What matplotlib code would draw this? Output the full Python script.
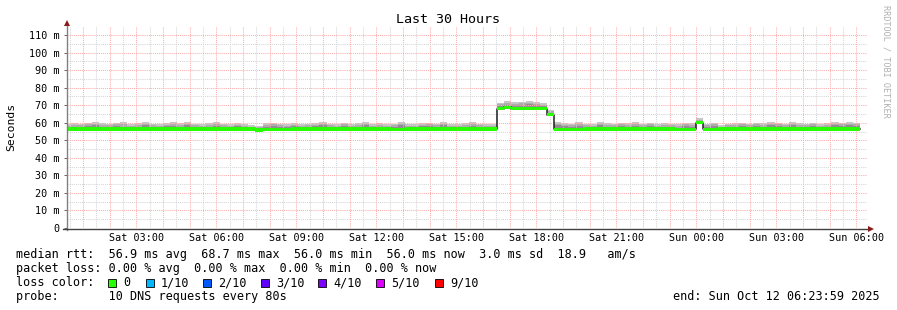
import numpy as np
import matplotlib
matplotlib.use("Agg")
import matplotlib.pyplot as plt
from matplotlib.patches import Rectangle
from matplotlib.lines import Line2D

# ---------------- data ----------------
title = "Last 30 Hours"
ylabel = "Seconds"
bin_minutes = 16          # consolidation step of the RRA
first_bin_start_h = 16 / 60.0   # Sat 00:16
x_start_h, x_end_h = 0.4, 30.4  # Sat 00:24 .. Sun 06:24

xtick_hours = [3, 6, 9, 12, 15, 18, 21, 24, 27, 30]
xtick_labels = ["Sat 03:00", "Sat 06:00", "Sat 09:00", "Sat 12:00", "Sat 15:00",
                "Sat 18:00", "Sat 21:00", "Sun 00:00", "Sun 03:00", "Sun 06:00"]
ytick_values = [0, 10, 20, 30, 40, 50, 60, 70, 80, 90, 100, 110]
ytick_labels = ["0", "10 m", "20 m", "30 m", "40 m", "50 m", "60 m",
                "70 m", "80 m", "90 m", "100 m", "110 m"]

# median RTT per bin (ms)
median = [
    56.5, 56.5, 56.4, 56.4, 56.5, 56.5, 56.4, 56.4, 56.5, 56.5,
    56.4, 56.4, 56.4, 56.5, 56.5, 56.4, 56.4, 56.4, 56.5, 56.5,
    56.4, 56.4, 56.4, 56.4, 56.4, 56.4, 56.4, 55.9, 56.2, 56.3,
    56.3, 56.3, 56.4, 56.4, 56.4, 56.4, 56.4, 56.4, 56.4, 56.5,
    56.5, 56.5, 56.4, 56.4, 56.4, 56.4, 56.3, 56.3, 56.4, 56.4,
    56.4, 56.4, 56.4, 56.4, 56.4, 56.4, 56.4, 56.4, 56.4, 56.4,
    56.4, 68.1, 68.7, 68.0, 68.0, 68.0, 68.0, 68.0, 64.6, 56.3,
    56.3, 56.3, 56.3, 56.4, 56.4, 56.4, 56.4, 56.4, 56.4, 56.4,
    56.4, 56.4, 56.4, 56.4, 56.4, 56.4, 56.2, 56.2, 56.2, 60.0,
    56.3, 56.3, 56.4, 56.4, 56.4, 56.4, 56.4, 56.4, 56.4, 56.4,
    56.4, 56.4, 56.4, 56.4, 56.4, 56.4, 56.4, 56.4, 56.4, 56.4,
    56.4, 56.4]

# smoke: highest ping per bin
smoke_top = [
    59.0, 59.8, 59.5, 60.0, 60.3, 59.8, 59.5, 60.0, 60.2, 59.3,
    59.8, 60.3, 59.5, 59.2, 59.8, 60.2, 59.6, 60.3, 59.5, 59.2,
    59.8, 60.3, 59.5, 59.2, 59.8, 59.0, 58.8, 58.3, 59.8, 60.0,
    59.5, 59.2, 59.8, 59.0, 59.5, 59.8, 60.2, 59.5, 59.0, 60.0,
    59.3, 59.8, 60.5, 59.2, 59.6, 59.0, 59.5, 60.3, 59.2, 59.0,
    59.8, 60.0, 59.5, 60.3, 59.2, 59.0, 59.8, 60.2, 59.5, 59.2,
    59.3, 71.5, 72.2, 71.8, 72.0, 72.4, 71.8, 71.2, 67.4, 60.5,
    59.8, 59.5, 60.2, 59.5, 59.0, 60.5, 59.8, 59.5, 60.0, 59.8,
    60.2, 59.5, 60.0, 59.2, 59.8, 59.5, 59.0, 60.0, 59.8, 62.5,
    59.5, 60.0, 58.8, 59.5, 59.8, 60.0, 59.5, 60.0, 59.8, 60.3,
    60.0, 59.5, 60.3, 59.8, 59.5, 60.0, 59.2, 59.8, 60.3, 60.0,
    60.5, 60.0]

# smoke: second highest ping per bin
smoke_mid = [
    58.2, 58.5, 58.8, 59.0, 59.5, 58.8, 58.5, 59.2, 59.0, 58.3,
    58.8, 59.3, 58.5, 58.2, 58.8, 59.2, 58.6, 59.5, 58.5, 58.3,
    58.8, 59.0, 58.5, 58.2, 58.8, 58.0, 57.8, 57.5, 58.8, 59.0,
    58.5, 58.2, 58.8, 58.0, 58.5, 58.8, 59.2, 58.5, 58.0, 59.0,
    58.3, 58.8, 59.5, 58.2, 58.6, 58.0, 58.5, 59.3, 58.2, 58.0,
    58.8, 59.0, 58.5, 59.3, 58.2, 58.0, 58.8, 59.2, 58.5, 58.2,
    58.3, 70.5, 71.0, 70.8, 71.0, 71.3, 70.8, 70.2, 66.5, 59.5,
    58.8, 58.5, 59.2, 58.5, 58.0, 59.5, 58.8, 58.5, 59.0, 58.8,
    59.2, 58.5, 59.0, 58.2, 58.8, 58.5, 58.0, 59.0, 58.8, 61.5,
    58.5, 59.0, 57.8, 58.5, 58.8, 59.0, 58.5, 59.0, 58.8, 59.3,
    59.0, 58.5, 59.3, 58.8, 58.5, 59.0, 58.2, 58.8, 59.3, 59.0,
    59.5, 59.0]

# smoke: third highest ping per bin
smoke_dark = [
    57.5, 57.8, 57.5, 58.0, 58.5, 57.8, 57.5, 58.3, 57.8, 57.5,
    57.8, 58.5, 57.5, 57.3, 58.0, 58.3, 57.5, 58.8, 57.8, 57.3,
    57.8, 58.2, 57.5, 57.3, 58.0, 57.2, 57.0, 56.8, 57.8, 58.2,
    57.5, 57.3, 58.0, 57.2, 57.5, 58.0, 58.5, 57.5, 57.2, 58.3,
    57.5, 57.8, 58.8, 57.3, 57.8, 57.2, 57.5, 58.5, 57.3, 57.2,
    58.0, 58.2, 57.5, 58.5, 57.3, 57.2, 57.8, 58.3, 57.5, 57.3,
    57.5, 69.5, 70.3, 70.0, 70.2, 70.5, 70.0, 69.3, 65.5, 58.5,
    58.0, 57.5, 58.3, 57.5, 57.2, 58.8, 57.8, 57.5, 58.0, 57.8,
    58.3, 57.5, 58.0, 57.3, 57.8, 57.5, 57.2, 58.2, 57.8, 60.8,
    57.5, 58.0, 57.0, 57.5, 57.8, 58.0, 57.5, 58.2, 57.8, 58.5,
    58.0, 57.5, 58.5, 57.8, 57.5, 58.2, 57.3, 57.8, 58.5, 58.0,
    58.8, 58.0]

legend_line1 = "median rtt:  56.9 ms avg  68.7 ms max  56.0 ms min  56.0 ms now  3.0 ms sd  18.9   am/s"
legend_line2 = "packet loss: 0.00 % avg  0.00 % max  0.00 % min  0.00 % now"
legend_line3 = "loss color:"
legend_line4 = "probe:       10 DNS requests every 80s"
end_text = "end: Sun Oct 12 06:23:59 2025"
loss_labels = ["0", "1/10", "2/10", "3/10", "4/10", "5/10", "9/10"]
loss_colors = ["#26ff00", "#00b8ff", "#0059ff", "#5e00ff", "#7e00ff", "#dd00ff", "#ff0000"]
watermark = "RRDTOOL / TOBI OETIKER"

# ---------------- figure ----------------
W, H = 897, 310
fig = plt.figure(figsize=(W / 100, H / 100), dpi=100)
fig.patch.set_facecolor("white")
MONO = "DejaVu Sans Mono"

def fx(px):
    return px / W

def fy(py):
    return 1 - py / H

ax = fig.add_axes([fx(67), 82 / H, 800 / W, 202 / H])
ax.set_facecolor("white")
ax.set_xlim(x_start_h, x_end_h)
ax.set_ylim(0, 115.13)

n = len(median)
edges = first_bin_start_h + np.arange(n + 1) * bin_minutes / 60.0

def ext(a):
    a = np.asarray(a, dtype=float)
    return np.append(a, a[-1])

med = np.asarray(median)
# smoke (light -> dark)
ax.fill_between(edges, ext(med), ext(smoke_top), step="post", color="#c6c6c6", lw=0, zorder=2)
ax.fill_between(edges, ext(med), ext(smoke_mid), step="post", color="#adadad", lw=0, zorder=2.1)
ax.fill_between(edges, ext(med), ext(smoke_dark), step="post", color="#8f8f8f", lw=0, zorder=2.2)

# grid
GRID_MINOR = "#d6d6d6"
GRID_MAJOR = "#ffacac"
for h in np.arange(0.5, 30.5, 1.0):
    ax.axvline(h, color=GRID_MINOR, lw=0.75, ls=(0, (1, 1)), zorder=3)
for h in np.arange(1, 31, 1.0):
    ax.axvline(h, color=GRID_MAJOR, lw=0.75, ls=(0, (1, 1)), zorder=3)
for v in np.arange(5, 115, 10.0):
    ax.axhline(v, color=GRID_MINOR, lw=0.75, ls=(0, (1, 1)), zorder=3)
for v in np.arange(10, 115, 10.0):
    ax.axhline(v, color=GRID_MAJOR, lw=0.75, ls=(0, (1, 1)), zorder=3)

# median line + loss-coloured band
ax.step(edges, ext(med), where="post", color="#202020", lw=1.1, zorder=4)
hw = 0.95
ax.fill_between(edges, ext(med - hw), ext(med + hw), step="post",
                color=loss_colors[0], lw=0, zorder=5)

# axes styling
for s in ["top", "right", "left", "bottom"]:
    ax.spines[s].set_visible(False)
ax.set_xticks(xtick_hours)
ax.set_xticklabels(xtick_labels, fontfamily=MONO, fontsize=7.25)
ax.set_yticks(ytick_values)
ax.set_yticklabels(ytick_labels, fontfamily=MONO, fontsize=7.3)
ax.tick_params(axis="x", length=0, pad=3.5)
ax.tick_params(axis="y", length=2.2, width=0.7, color="#666666", pad=3)

# axis lines with arrows
fig.add_artist(Line2D([fx(66.5), fx(66.5)], [fy(230), fy(24)], color="#808080", lw=1.0))
fig.add_artist(Line2D([fx(63), fx(869)], [fy(228.5), fy(228.5)], color="#404040", lw=1.0))
fig.add_artist(Line2D([fx(66.5)], [fy(22.5)], marker="^", ms=4.5, color="#8b1a1a",
                      markeredgewidth=0))
fig.add_artist(Line2D([fx(871)], [fy(228.5)], marker=">", ms=4.5, color="#8b1a1a",
                      markeredgewidth=0))

# texts
fig.text(fx(448), fy(19.5), title, ha="center", va="center", fontfamily=MONO, fontsize=9.6)
fig.text(fx(11), fy(127), ylabel, ha="center", va="center", rotation=90,
         fontfamily=MONO, fontsize=8.2)
fig.text(fx(886), fy(5), watermark, ha="center", va="top", rotation=-90,
         fontfamily=MONO, fontsize=6.1, color="#b0b0b0")

fs = 8.45
fig.text(fx(16), fy(254.5), legend_line1, ha="left", va="center", fontfamily=MONO, fontsize=fs)
fig.text(fx(16), fy(268.5), legend_line2, ha="left", va="center", fontfamily=MONO, fontsize=fs)
fig.text(fx(16), fy(282.5), legend_line3, ha="left", va="center", fontfamily=MONO, fontsize=fs)
fig.text(fx(16), fy(296.5), legend_line4, ha="left", va="center", fontfamily=MONO, fontsize=fs)
fig.text(fx(880), fy(296.5), end_text, ha="right", va="center", fontfamily=MONO, fontsize=fs)

box_x = [108, 145.7, 203, 261, 318, 376, 435]
for bx, lab, col in zip(box_x, loss_labels, loss_colors):
    fig.add_artist(Rectangle((fx(bx), fy(286.5)), 8 / W, 8 / H, transform=fig.transFigure,
                             facecolor=col, edgecolor="#000000", lw=0.6))
    fig.text(fx(bx + 15), fy(282.5), lab, ha="left", va="center", fontfamily=MONO, fontsize=fs)

fig.savefig("out.png", dpi=100, facecolor="white")
